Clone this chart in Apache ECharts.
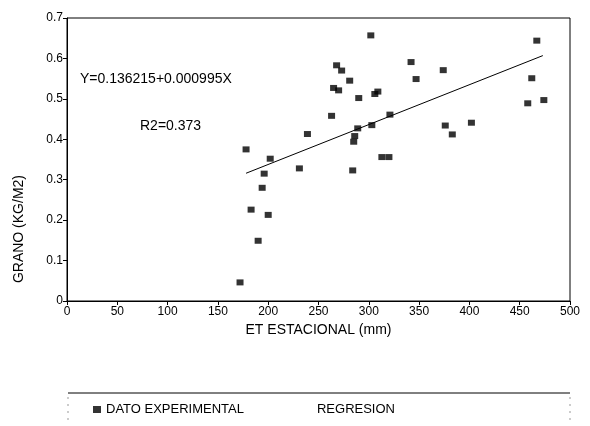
<!DOCTYPE html>
<html>
<head>
<meta charset="utf-8">
<title>Grano vs ET estacional</title>
<script src="https://cdn.jsdelivr.net/npm/echarts@6/dist/echarts.min.js"></script>
<style>
    html, body { margin: 0; padding: 0; background: #fff; }
    #grafico { width: 590px; height: 426px; }
</style>
</head>
<body>
<div id="grafico"></div>
<script>
// Datos: ET estacional (mm) y rendimiento de grano (kg/m2)
var etEstacional = [172, 190, 183, 200, 194, 196, 178, 202, 231, 239,
                    263, 265, 270, 268, 273, 281, 284, 285, 286, 289,
                    290, 302, 303, 306, 309, 313, 320, 321, 342, 347,
                    374, 376, 383, 402, 458, 462, 467, 474];
var grano = [0.046, 0.149, 0.226, 0.213, 0.280, 0.315, 0.375, 0.352, 0.328, 0.413,
             0.458, 0.527, 0.521, 0.583, 0.570, 0.545, 0.323, 0.394, 0.408, 0.427,
             0.502, 0.657, 0.435, 0.512, 0.518, 0.356, 0.356, 0.461, 0.591, 0.549,
             0.571, 0.434, 0.412, 0.441, 0.489, 0.551, 0.644, 0.497];

// Extremos de la recta de regresion tal como aparecen en la figura
var regresionX = [178, 473];
var regresionY = [0.316, 0.607];

var textoEcuacion = 'Y=0.136215+0.000995X';
var textoR2 = 'R2=0.373';

var puntos = etEstacional.map(function (x, i) { return [x, grano[i]]; });
var recta = regresionX.map(function (x, i) { return [x, regresionY[i]]; });

var fuente = 'Liberation Sans, Arial, sans-serif';
var grafico = echarts.init(document.getElementById('grafico'));

var opciones = {
    backgroundColor: '#fff',
    animation: false,
    textStyle: { fontFamily: fuente, color: '#000' },
    grid: {
        left: 67, right: 20, top: 18, bottom: 125,
        show: true, borderColor: '#000', borderWidth: 1
    },
    xAxis: {
        type: 'value', min: 0, max: 500, interval: 50,
        name: 'ET ESTACIONAL (mm)', nameLocation: 'middle', nameGap: 22,
        nameTextStyle: { fontSize: 14, color: '#000' },
        axisLine: { lineStyle: { color: '#000' } },
        axisTick: { show: true, length: 4, lineStyle: { color: '#000' } },
        axisLabel: { fontSize: 12, color: '#000', margin: 5 },
        splitLine: { show: false }
    },
    yAxis: {
        type: 'value', min: 0, max: 0.7, interval: 0.1,
        axisLine: { show: true, lineStyle: { color: '#000' } },
        axisTick: { show: true, length: 4, lineStyle: { color: '#000' } },
        axisLabel: { fontSize: 12, color: '#000', margin: 4 },
        splitLine: { show: false }
    },
    legend: {
        left: 88, top: 398,
        itemWidth: 8, itemHeight: 7, itemGap: 60,
        textStyle: { fontSize: 13, color: '#000' },
        data: [
            { name: 'DATO EXPERIMENTAL', icon: 'rect' },
            { name: 'REGRESION', icon: 'none' }
        ]
    },
    graphic: [
        {
            type: 'text', left: 12, top: 175, rotation: Math.PI / 2,
            style: { text: 'GRANO (KG/M2)', font: '14px ' + fuente, fill: '#000',
                     textAlign: 'center', textVerticalAlign: 'middle' }
        },
        {
            type: 'text', left: 80, top: 72,
            style: { text: textoEcuacion, font: '14px ' + fuente, fill: '#000' }
        },
        {
            type: 'text', left: 140, top: 119,
            style: { text: textoR2, font: '14px ' + fuente, fill: '#000' }
        },
        {
            type: 'line', shape: { x1: 68, y1: 393, x2: 570, y2: 393 },
            style: { stroke: '#000', lineWidth: 1 }
        },
        {
            type: 'line', shape: { x1: 68, y1: 397, x2: 68, y2: 420 },
            style: { stroke: '#999', lineWidth: 1, lineDash: [2, 5] }
        },
        {
            type: 'line', shape: { x1: 570, y1: 397, x2: 570, y2: 420 },
            style: { stroke: '#999', lineWidth: 1, lineDash: [2, 5] }
        }
    ],
    series: [
        {
            name: 'DATO EXPERIMENTAL', type: 'scatter', data: puntos,
            symbol: 'rect', symbolSize: [7, 6],
            itemStyle: { color: '#000' }
        },
        {
            name: 'REGRESION', type: 'line', data: recta,
            symbol: 'none', lineStyle: { color: '#000', width: 1 },
            itemStyle: { color: '#000' }
        }
    ]
};

grafico.setOption(opciones);
</script>
</body>
</html>
